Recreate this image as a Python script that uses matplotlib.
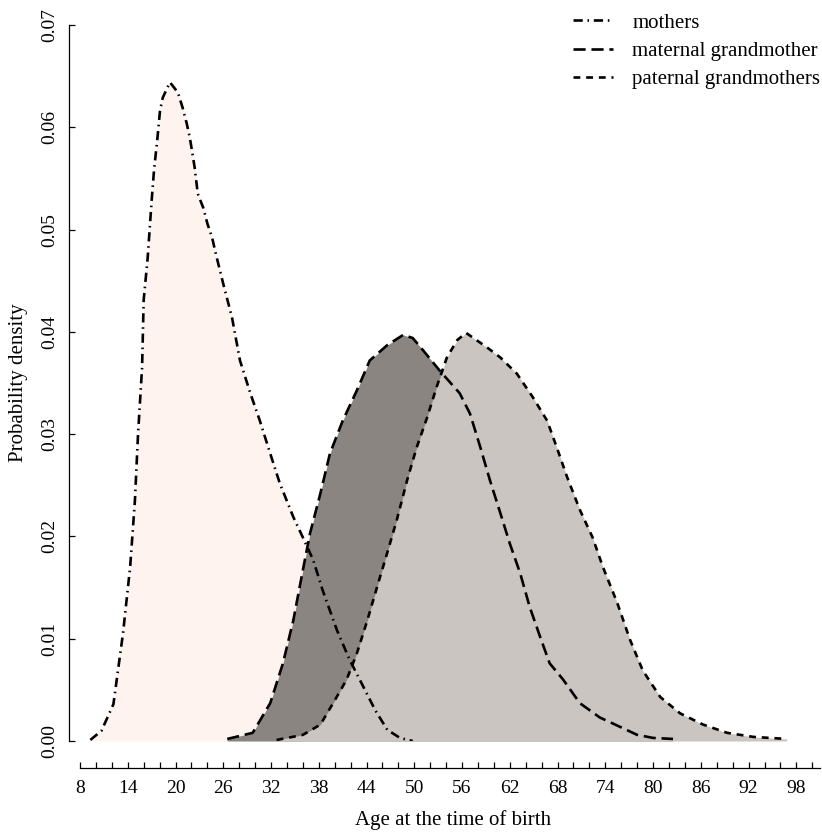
import numpy as np
import matplotlib
matplotlib.use("Agg")
from matplotlib import pyplot as plt
from matplotlib.lines import Line2D

plt.rcParams['font.family'] = ['Liberation Serif', 'DejaVu Serif']

# Densidades (edad, densidad)
# ===============================================
mothers_age = [9.3, 10.7, 12.2, 13.4, 14.3, 14.9, 15.3, 15.8, 16.0, 16.5, 17.0,
               17.3, 17.7, 18.05, 18.4, 19.3, 20.3, 20.9, 21.4, 21.8, 22.4, 22.8,
               23.5, 24.0, 24.6, 25.2, 26.0, 27.1, 28.1, 29.4, 30.6, 31.9, 33.1,
               34.8, 36.0, 37.3, 38.5, 40.3, 41.9, 43.6, 45.1, 46.6, 48.2, 49.8]
mothers_dens = [0.0001, 0.0010, 0.0036, 0.0105, 0.0170, 0.0235, 0.0301, 0.0365,
                0.0431, 0.0472, 0.0528, 0.0558, 0.0587, 0.0616, 0.0629, 0.0644,
                0.0634, 0.0619, 0.0604, 0.0590, 0.0561, 0.0535, 0.0521, 0.0506,
                0.0492, 0.0472, 0.0447, 0.0414, 0.0372, 0.0340, 0.0313, 0.0281,
                0.0252, 0.0219, 0.0199, 0.0177, 0.0147, 0.0108, 0.0079, 0.0053,
                0.0030, 0.0011, 0.0003, 0.0]

maternal_age = [26.5, 29.7, 31.9, 33.5, 34.8, 36.0, 36.9, 38.2, 39.4, 41.0, 42.8,
                44.4, 46.6, 48.6, 49.8, 51.1, 53.2, 55.7, 57.0, 58.3, 59.5, 60.8,
                62.0, 63.3, 64.5, 65.8, 67.0, 68.7, 70.8, 73.3, 75.8, 78.0, 80.0, 82.5]
maternal_dens = [0.0002, 0.0008, 0.0037, 0.0076, 0.0118, 0.0167, 0.0203, 0.0242,
                 0.0281, 0.0313, 0.0343, 0.0372, 0.0387, 0.0397, 0.0394, 0.0382,
                 0.0362, 0.0340, 0.0320, 0.0287, 0.0255, 0.0223, 0.0193, 0.0164,
                 0.0131, 0.0102, 0.0076, 0.0060, 0.0037, 0.0023, 0.0014, 0.0006,
                 0.0003, 0.0002]

paternal_age = [32.7, 36.0, 38.2, 39.8, 41.5, 42.8, 44.1, 45.3, 46.6, 47.8, 49.1,
                50.3, 51.6, 52.8, 54.1, 55.4, 56.5, 59.1, 60.8, 62.9, 64.9, 66.7,
                67.9, 69.2, 70.8, 72.4, 73.7, 75.5, 77.1, 78.7, 80.9, 83.4, 86.3,
                89.3, 92.6, 96.8]
paternal_dens = [0.0001, 0.0006, 0.0016, 0.0037, 0.0060, 0.0086, 0.0118, 0.0150,
                 0.0184, 0.0216, 0.0255, 0.0287, 0.0316, 0.0346, 0.0375, 0.0392,
                 0.0399, 0.0385, 0.0375, 0.0359, 0.0336, 0.0313, 0.0287, 0.0258,
                 0.0226, 0.0199, 0.0170, 0.0135, 0.0099, 0.0069, 0.0043, 0.0027,
                 0.0016, 0.0008, 0.0004, 0.0002]

labels = ["mothers", "maternal grandmother", "paternal grandmothers"]
xticks = np.arange(8, 99, 6)
yticks = [0.00, 0.01, 0.02, 0.03, 0.04, 0.05, 0.06, 0.07]

# Estilos
lw = 1.9
ls_mothers = (0, (3.5, 1.8, 0.6, 1.8))
ls_maternal = (0, (4.6, 2.2))
ls_paternal = (0, (2.6, 2.2))

fig = plt.figure(figsize=(8.22, 8.33), dpi=100)
ax = fig.add_axes([69/822, 92/833, 753/822, 716/833])

# Rellenos (de atras hacia adelante)
ax.fill_between(mothers_age, mothers_dens, color='#fef3ee', lw=0, zorder=1)
ax.fill_between(maternal_age, maternal_dens, color='#8a8581', lw=0, zorder=2)
ax.fill_between(paternal_age, paternal_dens, color='#cbc5c1', lw=0, zorder=3)

# Lineas
ax.plot(mothers_age, mothers_dens, color='black', lw=lw, ls=ls_mothers, zorder=5)
ax.plot(maternal_age, maternal_dens, color='black', lw=lw, ls=ls_maternal, zorder=5)
ax.plot(paternal_age, paternal_dens, color='black', lw=lw, ls=ls_paternal, zorder=5)

ax.set_xlim(6.62, 101.22)
ax.set_ylim(0, 0.07)

# Ejes
for s in ['top', 'right']:
    ax.spines[s].set_visible(False)
ax.spines['bottom'].set_position(('outward', 19.4))
ax.spines['bottom'].set_bounds(8, 101)
ax.spines['left'].set_bounds(0, 0.07)
ax.spines['left'].set_linewidth(0.9)
ax.spines['bottom'].set_linewidth(0.9)

ax.set_xticks(xticks)
ax.set_xticklabels([str(t) for t in xticks])
ax.set_xticks(np.arange(8, 101, 2), minor=True)
ax.set_yticks(yticks)
ax.set_yticklabels(["%.2f" % t for t in yticks], rotation=90, va='center')
ax.tick_params(axis='both', which='both', direction='in', length=4, width=0.9)
ax.tick_params(axis='x', which='major', labelsize=14, pad=9)
ax.tick_params(axis='y', which='major', labelsize=14, pad=8)

ax.set_xlabel("Age at the time of birth", fontsize=15)
ax.xaxis.set_label_coords(0.51, -0.096)
ax.set_ylabel("Probability density", fontsize=15)
ax.yaxis.set_label_coords(-0.054, 0.5)

# Leyenda
handles = [Line2D([], [], color='black', lw=lw, ls=ls_mothers),
           Line2D([], [], color='black', lw=lw, ls=ls_maternal),
           Line2D([], [], color='black', lw=lw, ls=ls_paternal)]
fig.legend(handles, labels, loc='upper left', bbox_to_anchor=(573/822, 1 - 13/833),
           frameon=False, fontsize=15, handlelength=1.9, handletextpad=0.95,
           labelspacing=0.42, borderpad=0, borderaxespad=0)

fig.savefig('out.png', dpi=100)
